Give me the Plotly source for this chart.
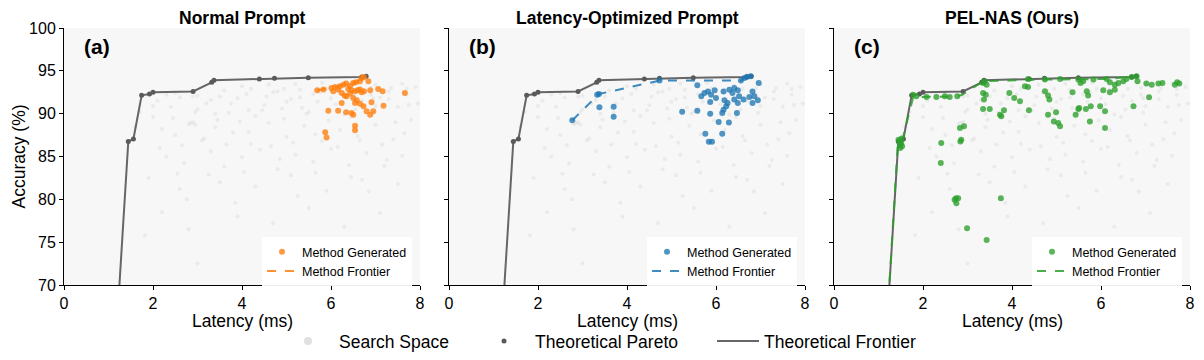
import plotly.graph_objects as go

# ---------------- data ----------------
# Search space (faint background samples)
ss_lat = [2.1, 2.4, 2.6, 2.8, 2.9, 3.0, 3.2, 3.5, 3.7, 3.9, 4.1, 4.3, 4.5, 4.7, 4.9, 5.1, 5.3, 5.5, 5.7, 5.9,
          6.1, 6.3, 6.5, 6.7, 6.9, 7.1, 7.3, 7.5, 7.7, 7.9,
          2.2, 2.5, 3.1, 3.4, 3.8, 4.2, 4.6, 5.0, 5.4, 5.8, 6.2, 6.6, 7.0, 7.4, 7.8,
          2.3, 2.7, 3.3, 3.6, 4.0, 4.4, 4.8, 5.2, 5.6, 6.0, 6.4, 6.8, 7.2, 7.6,
          1.9, 2.6, 2.76, 3.5, 4.3, 5.1, 5.9, 6.7, 7.5,
          1.82, 2.8, 3.9, 4.7, 5.5, 6.3, 7.1,
          1.6, 1.7, 2.0, 2.3, 2.9, 3.4, 4.0, 4.6, 5.2, 5.8, 6.4, 7.0, 7.6, 3.0, 4.5, 5.8, 2.2,
          2.85, 2.95, 4.8, 5.0, 5.6, 6.0, 6.6, 6.9, 7.3, 7.7, 3.6, 4.2, 5.3, 6.2, 7.0,
          2.0, 2.5, 3.0, 3.3, 3.75, 4.15, 4.55, 4.95, 5.35, 5.75, 6.15, 6.55, 6.95, 7.35, 7.75,
          2.45, 2.95, 3.45, 3.95, 4.45, 4.95, 5.45, 5.95, 6.45, 6.95, 7.45, 7.95,
          2.15, 2.65, 3.15, 3.65, 4.15, 4.65, 5.15, 5.65, 6.15, 6.65, 7.15, 7.65,
          2.55, 3.25, 4.05, 4.85, 5.65, 6.45, 7.25, 3.85, 5.25, 6.85]
ss_acc = [91.5, 90.8, 91.9, 88.8, 89.0, 90.5, 91.2, 92.0, 90.1, 91.8, 92.3, 89.7, 91.0, 92.5, 90.6, 91.7, 92.8, 90.2, 91.4, 92.9,
          91.1, 89.9, 92.1, 91.5, 93.0, 91.9, 92.6, 90.8, 92.2, 93.1,
          88.2, 87.5, 86.9, 88.4, 87.8, 86.5, 88.9, 87.3, 88.6, 86.8, 88.1, 87.4, 88.7, 87.0, 89.3,
          85.0, 84.2, 85.6, 83.8, 84.9, 85.8, 83.5, 85.2, 84.4, 85.9, 84.0, 85.4, 83.9, 85.1,
          82.5, 81.2, 80.0, 82.0, 81.5, 82.8, 81.0, 82.3, 81.8,
          75.8, 76.5, 78.0, 77.2, 79.0, 76.8, 78.4,
          88.5, 90.2, 89.6, 92.2, 92.0, 90.0, 93.2, 93.4, 93.5, 93.6, 93.3, 93.4, 93.5, 72.5, 73.5, 72.0, 78.5,
          88.9, 88.7, 92.6, 91.4, 92.3, 91.8, 92.9, 92.2, 91.7, 92.9, 92.7, 92.9, 91.9, 92.8, 90.9,
          90.9, 92.4, 92.1, 91.6, 91.2, 90.4, 92.0, 92.9, 90.7, 92.5, 92.6, 90.5, 91.8, 93.0, 91.0,
          89.5, 90.2, 89.3, 89.1, 90.4, 89.4, 90.0, 89.2, 89.6, 90.1, 89.0, 91.2,
          86.0, 86.3, 87.1, 86.4, 87.9, 86.2, 86.6, 87.6, 86.1, 86.9, 86.4, 87.7,
          83.0, 82.9, 83.2, 84.7, 83.1, 82.6, 84.6, 79.6, 80.4, 80.9]

# Theoretical Pareto frontier
th_lat = [1.15, 1.445, 1.56, 1.745, 1.92, 2.0, 2.9, 3.32, 3.37, 4.39, 4.73, 5.49, 6.69, 6.79]
th_acc = [62.0, 86.76, 87.04, 92.14, 92.3, 92.5, 92.6, 93.66, 93.9, 94.05, 94.13, 94.2, 94.29, 94.36]

# (a) Normal Prompt
a_lat = [5.69, 5.83, 6.01, 6.09, 6.20, 6.28, 6.34, 6.43, 6.50, 6.56, 6.65, 6.69, 6.74, 6.84, 7.06, 7.16, 7.66,
         6.05, 6.16, 6.24, 6.31, 6.39, 6.46, 6.54, 6.60, 6.65, 6.69, 6.74, 6.88,
         6.24, 6.16, 6.34, 6.46, 6.50, 6.54, 6.65, 6.73, 6.91, 7.18, 6.80, 6.88, 6.95, 5.94,
         5.87, 5.90, 6.54, 6.54, 6.50, 6.58, 6.35, 6.43]
a_acc = [92.73, 92.81, 93.00, 93.12, 93.20, 93.39, 93.51, 93.27, 93.59, 93.66, 93.78, 94.17, 94.29, 93.78, 92.88, 92.61, 92.42,
         92.61, 92.81, 92.42, 92.10, 92.88, 92.73, 92.61, 92.73, 92.81, 92.50, 92.61, 92.73,
         91.25, 90.35, 90.16, 90.08, 89.88, 91.25, 91.17, 90.86, 91.33, 90.93, 90.27, 89.88, 90.27, 90.35,
         87.82, 87.23, 88.60, 88.05, 91.83, 91.56, 92.03, 92.34]
a_front_lat = [5.69, 6.01, 6.28, 6.56, 6.74]
a_front_acc = [92.73, 93.00, 93.39, 93.66, 94.29]

# (b) Latency-Optimized Prompt
b_lat = [2.77, 3.37, 3.33, 3.38, 3.70, 3.70, 5.24, 5.58, 5.58, 5.67, 5.74, 5.82, 5.89, 5.97, 5.87, 6.00, 5.87,
         5.76, 5.84, 5.91, 6.14, 6.14, 6.17, 6.19, 6.26, 6.29, 6.37, 6.41, 6.49, 6.52, 6.47, 6.49, 6.62,
         6.75, 6.82, 6.86, 6.82, 6.94, 6.96, 6.17, 6.30, 6.56, 6.64, 6.23, 6.41, 6.06, 4.73, 6.70, 6.78]
b_acc = [89.22, 92.30, 92.20, 90.74, 90.82, 89.65, 90.23, 90.35, 93.31, 92.03, 92.42, 92.60, 92.20, 92.73, 91.37, 91.83, 90.00,
         87.66, 86.73, 86.73, 87.66, 90.08, 90.47, 91.56, 91.25, 88.98, 92.42, 93.00, 92.73, 92.03, 90.08, 91.25, 91.64,
         91.95, 92.60, 92.03, 91.25, 91.56, 93.59, 92.60, 92.80, 93.86, 94.17, 90.86, 91.64, 89.02, 93.86, 94.30, 94.36]
b_front_lat = [2.77, 3.37, 4.73, 6.56, 6.64, 6.78]
b_front_acc = [89.22, 92.30, 93.86, 93.86, 94.17, 94.36]

# (c) PEL-NAS (Ours)
c_lat = [1.48, 1.45, 1.51, 1.53, 1.48, 1.52, 1.49,
         1.78, 1.85, 2.08, 2.30, 2.49, 2.60, 2.77, 2.41, 2.40, 2.83, 2.92, 2.84, 2.86,
         2.74, 2.79, 2.75, 2.71, 2.99, 3.43, 3.75,
         3.35, 3.39, 3.43, 3.35, 3.41, 3.37, 3.35, 3.50, 3.82, 3.73, 3.76, 3.94, 4.05, 4.18, 4.29, 4.36, 4.38,
         4.74, 4.81, 4.84, 4.81, 4.94, 4.99, 5.04, 5.08, 5.36, 5.43, 5.49, 5.51, 5.68, 5.71, 5.66, 5.77, 5.75,
         5.98, 6.05, 6.09, 6.09, 6.20, 6.31, 6.73, 7.08,
         4.74, 5.08, 5.49, 5.54, 5.60, 6.13, 6.20, 6.31, 6.39, 6.50, 6.57, 6.69, 6.80, 6.82, 7.02, 7.14, 7.29,
         7.38, 7.66, 7.71, 7.76, 4.36, 5.83]
c_acc = [86.76, 86.96, 86.57, 86.2, 86.4, 87.1, 86.0,
         92.22, 92.03, 91.95, 91.95, 92.03, 91.95, 92.03, 86.57, 84.23, 88.32, 88.52, 86.76, 86.96,
         80.14, 80.14, 79.55, 79.94, 76.63, 75.26, 80.14,
         93.59, 93.78, 93.39, 92.42, 92.22, 91.64, 90.55, 90.55, 90.39, 89.88, 89.69, 92.42, 91.83, 91.44, 93.20, 93.12, 90.39,
         92.61, 92.11, 91.64, 89.88, 89.10, 90.16, 88.90, 88.52, 92.49, 89.88, 90.55, 90.66, 92.61, 92.11, 90.55, 90.86, 89.10,
         90.86, 92.73, 90.27, 88.32, 92.49, 92.80, 90.86, 91.91,
         93.98, 94.05, 93.98, 93.59, 93.78, 94.05, 93.66, 93.39, 93.59, 93.78, 94.05, 94.29, 94.37, 93.78, 93.51, 93.39, 93.51,
         93.59, 93.39, 93.66, 93.51, 94.05, 93.98]
c_front_lat = [1.15, 1.44, 1.55, 1.78, 2.75, 2.88, 3.35, 4.74, 6.13, 6.80]
c_front_acc = [62.0, 86.96, 87.2, 91.95, 92.0, 92.2, 93.78, 93.98, 94.05, 94.37]

titles = ["Normal Prompt", "Latency-Optimized Prompt", "PEL-NAS (Ours)"]
panel_tags = ["(a)", "(b)", "(c)"]
x_ticks = [0, 2, 4, 6, 8]
y_ticks = [70, 75, 80, 85, 90, 95, 100]

# ---------------- figure ----------------
# The page body has an 8px margin, so the figure is 8px smaller and all
# reference pixel positions are shifted by OFF.
OFF = 8
W, H = 1204 - OFF, 360 - OFF
ML, MR, MT, MB = 64 - OFF, 14, 28 - OFF, 75
PW, PH = W - ML - MR, H - MT - MB
FONT = "Liberation Sans, Arial, sans-serif"
colors = ["#ff7f0e", "#1f77b4", "#2ca02c"]
methods = [(a_lat, a_acc, a_front_lat, a_front_acc),
           (b_lat, b_acc, b_front_lat, b_front_acc),
           (c_lat, c_acc, c_front_lat, c_front_acc)]
px_domains = [(64, 420), (449, 805), (834, 1190)]


def px(xp):
    return (xp - OFF - ML) / PW


def py(yp):
    return (H - MB - (yp - OFF)) / PH


def cx(xp):
    return (xp - OFF) / W


def cy(yp):
    return 1 - (yp - OFF) / H


fig = go.Figure()
for i in range(3):
    sfx = "" if i == 0 else str(i + 1)
    xa, ya = "x" + sfx, "y" + sfx
    first = i == 0
    fig.add_trace(go.Scatter(x=ss_lat, y=ss_acc, mode="markers", xaxis=xa, yaxis=ya,
                             marker=dict(color="#bdbdbd", size=4, opacity=0.22),
                             name="Search Space", showlegend=False))
    fig.add_trace(go.Scatter(x=th_lat, y=th_acc, mode="lines", xaxis=xa, yaxis=ya,
                             line=dict(color="#666666", width=2),
                             name="Theoretical Frontier", showlegend=first, legend="legend7"))
    fig.add_trace(go.Scatter(x=th_lat, y=th_acc, mode="markers", xaxis=xa, yaxis=ya,
                             marker=dict(color="#5a5a5a", size=5),
                             name="Theoretical Pareto", showlegend=first, legend="legend6"))
    ml, ma, fl, fa = methods[i]
    lg = "legend" + str(i + 2)
    fig.add_trace(go.Scatter(x=ml, y=ma, mode="markers", xaxis=xa, yaxis=ya,
                             marker=dict(color=colors[i], size=6, opacity=0.78),
                             name="Method Generated", legend=lg))
    fig.add_trace(go.Scatter(x=fl, y=fa, mode="lines", xaxis=xa, yaxis=ya,
                             line=dict(color=colors[i], width=2, dash="dash"), opacity=0.85,
                             name="Method Frontier", legend=lg))

# legend key for the faint search-space cloud
fig.add_trace(go.Scatter(x=[None], y=[None], mode="markers",
                         marker=dict(color="#e0e0e0", size=8),
                         name="Search Space", legend="legend"))

bottom_leg = dict(orientation="h", xanchor="left", yref="container", xref="container",
                  y=cy(341), yanchor="middle",
                  font=dict(size=17.5), bgcolor="rgba(0,0,0,0)")
layout = dict(
    width=W, height=H,
    margin=dict(l=ML, r=MR, t=MT, b=MB, autoexpand=False),
    paper_bgcolor="white",
    plot_bgcolor="#f7f7f7",
    font=dict(family=FONT, size=16, color="black"),
    legend=dict(bottom_leg, x=cx(339 - 62), itemwidth=52),
    legend6=dict(bottom_leg, x=cx(535 - 62), itemwidth=52),
    legend7=dict(bottom_leg, x=cx(764 - 52), itemwidth=42),
)
annotations = [dict(text="Accuracy (%)", textangle=-90, x=px(18.5), y=py(157),
                    xref="paper", yref="paper", showarrow=False,
                    font=dict(size=17.5), xanchor="center", yanchor="middle")]
for i in range(3):
    sfx = "" if i == 0 else str(i + 1)
    l, r = px_domains[i]
    layout["xaxis" + sfx] = dict(domain=[px(l), px(r)], range=[0, 8], tickvals=x_ticks,
                                 showline=True, linecolor="black", linewidth=1,
                                 ticks="outside", ticklen=4, tickcolor="black",
                                 showgrid=False, zeroline=False, anchor="y" + sfx,
                                 tickfont=dict(size=16), automargin=False)
    layout["yaxis" + sfx] = dict(domain=[0, 1], range=[70, 100], tickvals=y_ticks,
                                 showline=True, linecolor="black", linewidth=1,
                                 ticks="outside", ticklen=4, tickcolor="black",
                                 showgrid=False, zeroline=False, anchor="x" + sfx,
                                 showticklabels=(i == 0), tickfont=dict(size=16), automargin=False)
    layout["legend" + str(i + 2)] = dict(
        xref="container", yref="container",
        x=cx(l + 198), xanchor="left", y=cy(237), yanchor="top",
        bgcolor="rgba(255,255,255,0.92)", font=dict(size=12.5), tracegroupgap=0,
        itemwidth=30)
    annotations.append(dict(text="<b>" + titles[i] + "</b>", x=px((l + r) / 2), y=py(18.5),
                            xref="paper", yref="paper", showarrow=False,
                            font=dict(size=17.5), xanchor="center", yanchor="middle"))
    annotations.append(dict(text="<b>" + panel_tags[i] + "</b>", x=px(l + 18), y=py(47),
                            xref="paper", yref="paper",
                            showarrow=False, font=dict(size=21), xanchor="left", yanchor="middle"))
    annotations.append(dict(text="Latency (ms)", x=px((l + r) / 2), y=py(320.5),
                            xref="paper", yref="paper", showarrow=False,
                            font=dict(size=17.5), xanchor="center", yanchor="middle"))
layout["annotations"] = annotations
fig.update_layout(**layout)

fig.write_html("out.html")
